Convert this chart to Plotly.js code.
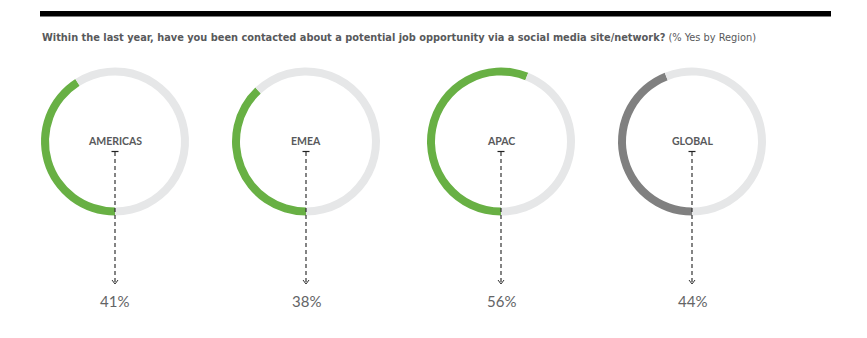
<!DOCTYPE html>
<html>
<head>
<meta charset="utf-8">
<script src="https://cdn.plot.ly/plotly-3.0.1.min.js"></script>
<style>
html,body{margin:0;padding:0;background:#fff;}
#chart{width:867px;height:338px;}
</style>
</head>
<body>
<div id="chart"></div>
<script>
// ---- data ----
var regions = ["AMERICAS", "EMEA", "APAC", "GLOBAL"];
var yesPct = [41, 38, 56, 44];
var arcColors = ["#68B044", "#68B044", "#68B044", "#808080"];
var restColor = "#E6E7E8";
var titleBold = "Within the last year, have you been contacted about a potential job opportunity via a social media site/network?";
var titleLight = "(% Yes by Region)";

// ---- layout geometry (pixels) ----
var W = 867, H = 338;
var centersX = [115, 306, 501, 692];
var centerY = 141.5;
var R = 74;
function px(x){ return x / W; }
function py(y){ return (H - y) / H; }

var traces = [];
var shapes = [];
var annotations = [];

shapes.push({type:"rect", xref:"paper", yref:"paper",
  x0:px(40), x1:px(831), y0:py(11), y1:py(16.5),
  fillcolor:"#000", line:{width:0}});

annotations.push({xref:"paper", yref:"paper", x:px(40), y:py(37.5),
  xanchor:"left", yanchor:"middle", showarrow:false,
  text:"<b>" + titleBold + "</b> " + titleLight,
  font:{family:"Liberation Sans Narrow, DejaVu Sans Condensed, sans-serif", size:10.9, color:"#58595B"}});

for (var i = 0; i < regions.length; i++) {
  var cx = centersX[i];
  traces.push({
    type:"pie",
    values:[yesPct[i], 100 - yesPct[i]],
    labels:[regions[i] + " yes", regions[i] + " no"],
    sort:false,
    direction:"clockwise",
    rotation:180,
    hole:0.892,
    textinfo:"none",
    hoverinfo:"skip",
    marker:{colors:[arcColors[i], restColor], line:{width:0}},
    domain:{x:[px(cx - R), px(cx + R)], y:[py(centerY + R), py(centerY - R)]},
    showlegend:false
  });
  annotations.push({xref:"paper", yref:"paper", x:px(cx), y:py(141),
    xanchor:"center", yanchor:"middle", showarrow:false,
    text:"<b>" + regions[i] + "</b>",
    font:{family:"Lato, Open Sans, sans-serif", size:10.5, color:"#58595B"}});
  annotations.push({xref:"paper", yref:"paper", x:px(cx), y:py(301),
    xanchor:"center", yanchor:"middle", showarrow:false,
    text:yesPct[i] + "%",
    font:{family:"Lato, Open Sans, sans-serif", size:15, color:"#636466"}});
  // top tick
  shapes.push({type:"line", xref:"paper", yref:"paper",
    x0:px(cx - 3.5), x1:px(cx + 3.5), y0:py(151.5), y1:py(151.5),
    line:{color:"#222", width:1.2}});
  // dashed connector
  shapes.push({type:"line", xref:"paper", yref:"paper",
    x0:px(cx), x1:px(cx), y0:py(152), y1:py(283),
    line:{color:"#333", width:1.2, dash:"4px,3px"}});
  // arrow head
  shapes.push({type:"path", xref:"paper", yref:"paper",
    path:"M " + px(cx - 3) + " " + py(280) + " L " + px(cx) + " " + py(284) + " L " + px(cx + 3) + " " + py(280),
    line:{color:"#333", width:1}});
}

var layout = {
  width:W, height:H,
  margin:{l:0, r:0, t:0, b:0},
  paper_bgcolor:"#fff",
  showlegend:false,
  shapes:shapes,
  annotations:annotations
};
Plotly.newPlot("chart", traces, layout, {displayModeBar:false, staticPlot:true});
</script>
</body>
</html>
